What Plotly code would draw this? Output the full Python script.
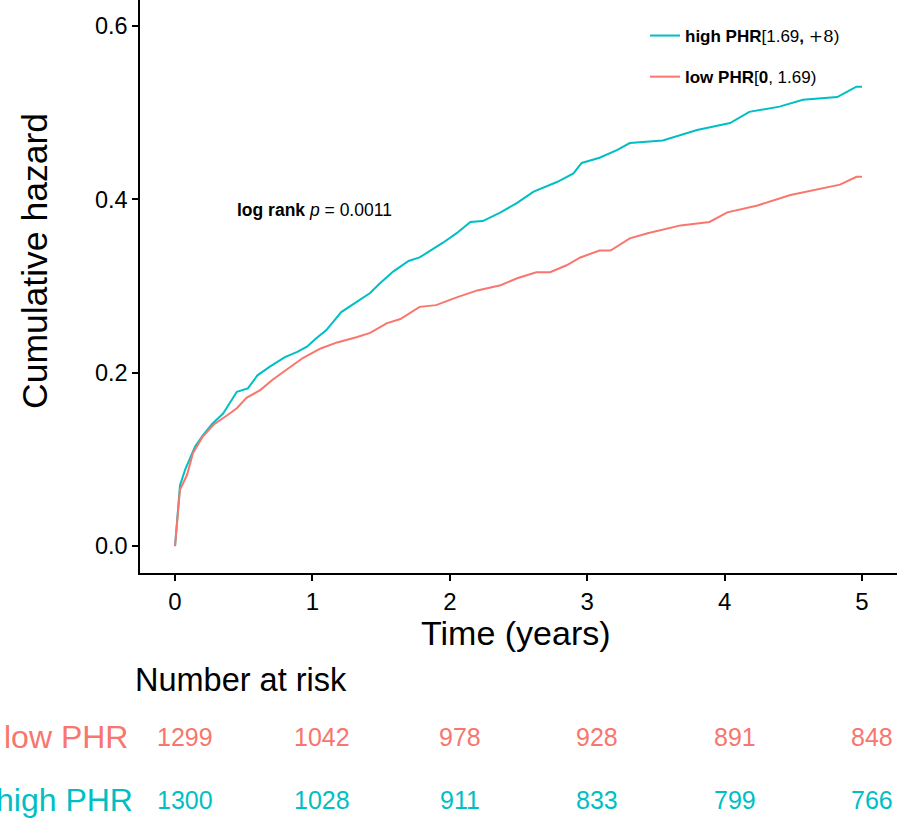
import plotly.graph_objects as go

# ---- data ----
t_high = [0, 0.036, 0.073, 0.109, 0.146, 0.204, 0.27, 0.35, 0.45, 0.53, 0.6, 0.69, 0.8, 0.89, 0.96,
          1.03, 1.1, 1.21, 1.27, 1.42, 1.49, 1.59, 1.70, 1.78, 1.95, 2.05, 2.15, 2.24, 2.37, 2.49,
          2.61, 2.78, 2.9, 2.96, 3.09, 3.22, 3.31, 3.55, 3.8, 4.04, 4.18, 4.40, 4.57, 4.82, 4.89,
          4.96, 5.0]
h_high = [0, 0.070, 0.088, 0.101, 0.115, 0.128, 0.141, 0.153, 0.178, 0.182, 0.197, 0.207, 0.218,
          0.224, 0.230, 0.240, 0.249, 0.270, 0.276, 0.292, 0.303, 0.317, 0.329, 0.333, 0.350, 0.361,
          0.374, 0.375, 0.385, 0.396, 0.409, 0.420, 0.430, 0.442, 0.448, 0.457, 0.465, 0.468, 0.480,
          0.488, 0.501, 0.507, 0.515, 0.518, 0.524, 0.530, 0.530]

t_low = [0, 0.036, 0.087, 0.13, 0.2, 0.28, 0.38, 0.45, 0.52, 0.62, 0.71, 0.84, 0.93, 1.06, 1.18,
         1.32, 1.42, 1.54, 1.64, 1.78, 1.9, 2.05, 2.2, 2.37, 2.49, 2.63, 2.73, 2.85, 2.95, 3.09,
         3.17, 3.31, 3.44, 3.68, 3.89, 4.02, 4.24, 4.48, 4.67, 4.84, 4.96, 5.0]
h_low = [0, 0.065, 0.082, 0.107, 0.126, 0.140, 0.151, 0.159, 0.171, 0.180, 0.192, 0.207, 0.217,
         0.228, 0.235, 0.241, 0.246, 0.257, 0.262, 0.276, 0.278, 0.287, 0.295, 0.301, 0.309, 0.316,
         0.316, 0.324, 0.333, 0.341, 0.341, 0.355, 0.361, 0.370, 0.374, 0.385, 0.393, 0.405, 0.411,
         0.417, 0.426, 0.426]

risk_times = [0, 1, 2, 3, 4, 5]
risk_low = [1299, 1042, 978, 928, 891, 848]
risk_high = [1300, 1028, 911, 833, 799, 766]

x_ticks = [0, 1, 2, 3, 4, 5]
y_ticks = [0.0, 0.2, 0.4, 0.6]

col_high = "#00BFC4"
col_low = "#F8766D"
font_fam = "Liberation Sans, Arial, sans-serif"

fig = go.Figure()
fig.add_trace(go.Scatter(x=t_high, y=h_high, mode="lines",
                         line=dict(color=col_high, width=2),
                         name="<b>high PHR</b>[1.69<b>,</b> <span style='font-family:DejaVu Serif, serif'>+8</span>)",
                         legendgroup="a"))
fig.add_trace(go.Scatter(x=t_low, y=h_low, mode="lines",
                         line=dict(color=col_low, width=2),
                         name="<b>low PHR</b>[<b>0</b>, 1.69)", legendgroup="b"))

annotations = []
annotations.append(dict(x=0.437, y=0.388, xref="x", yref="y", xanchor="left", yanchor="middle",
                        text="<b>log rank</b> <i>p</i> = 0.0011", showarrow=False,
                        font=dict(size=17.5, color="black", family=font_fam)))
# axis titles
annotations.append(dict(x=35/902, y=1-261/819, xref="paper", yref="paper", xanchor="center",
                        yanchor="middle", text="Cumulative hazard",
                        textangle=-90, showarrow=False, font=dict(size=35.5, color="black", family=font_fam)))
annotations.append(dict(x=516/902, y=1-633/819, xref="paper", yref="paper", xanchor="center",
                        yanchor="middle", text="Time (years)",
                        showarrow=False, font=dict(size=34, color="black", family=font_fam)))
# risk table
row_low_y = 1 - 737/819
row_high_y = 1 - 800/819
annotations.append(dict(x=133/902, y=1-680/819, xref="paper", yref="paper", xanchor="left",
                        yanchor="middle", text="Number at risk", showarrow=False,
                        font=dict(size=32.5, color="black", family=font_fam)))
annotations.append(dict(x=130/902, y=row_low_y, xref="paper", yref="paper", xanchor="right",
                        yanchor="middle", text="low PHR", showarrow=False,
                        font=dict(size=32, color=col_low, family=font_fam)))
annotations.append(dict(x=135/902, y=row_high_y, xref="paper", yref="paper", xanchor="right",
                        yanchor="middle", text="high PHR", showarrow=False,
                        font=dict(size=32, color=col_high, family=font_fam)))
for t, n in zip(risk_times, risk_low):
    annotations.append(dict(x=t, y=row_low_y, xref="x", yref="paper", text=str(n), showarrow=False,
                            xanchor="center", yanchor="middle", xshift=10,
                            font=dict(size=25, color=col_low, family=font_fam)))
for t, n in zip(risk_times, risk_high):
    annotations.append(dict(x=t, y=row_high_y, xref="x", yref="paper", text=str(n), showarrow=False,
                            xanchor="center", yanchor="middle", xshift=10,
                            font=dict(size=25, color=col_high, family=font_fam)))

fig.update_layout(
    width=902, height=819,
    margin=dict(l=0, r=0, t=0, b=0),
    paper_bgcolor="white", plot_bgcolor="white",
    font=dict(family=font_fam, color="black"),
    showlegend=True,
    legend=dict(x=645/902, y=1-18/819, xanchor="left", yanchor="top", bgcolor="rgba(0,0,0,0)",
                font=dict(size=17, color="black", family=font_fam), itemwidth=30,
                tracegroupgap=16),
    xaxis=dict(domain=[140/902, 897/902], range=[-0.255, 5.255], tickvals=x_ticks,
               showgrid=False, zeroline=False, showline=True, linecolor="black", linewidth=1.5,
               ticks="outside", ticklen=6, tickwidth=1.5, tickcolor="black",
               tickfont=dict(size=24, color="black", family=font_fam)),
    yaxis=dict(domain=[(819-573)/819, 1.0], range=[-0.031, 0.63], tickvals=y_ticks,
               tickformat=".1f",
               showgrid=False, zeroline=False, showline=True, linecolor="black", linewidth=1.5,
               ticks="outside", ticklen=6, tickwidth=1.5, tickcolor="black",
               tickfont=dict(size=23.5, color="black", family=font_fam)),
    annotations=annotations,
)

fig.write_html("out.html", config={"displayModeBar": False},
               post_script="document.body.style.margin='0px';document.body.style.overflow='hidden';")
